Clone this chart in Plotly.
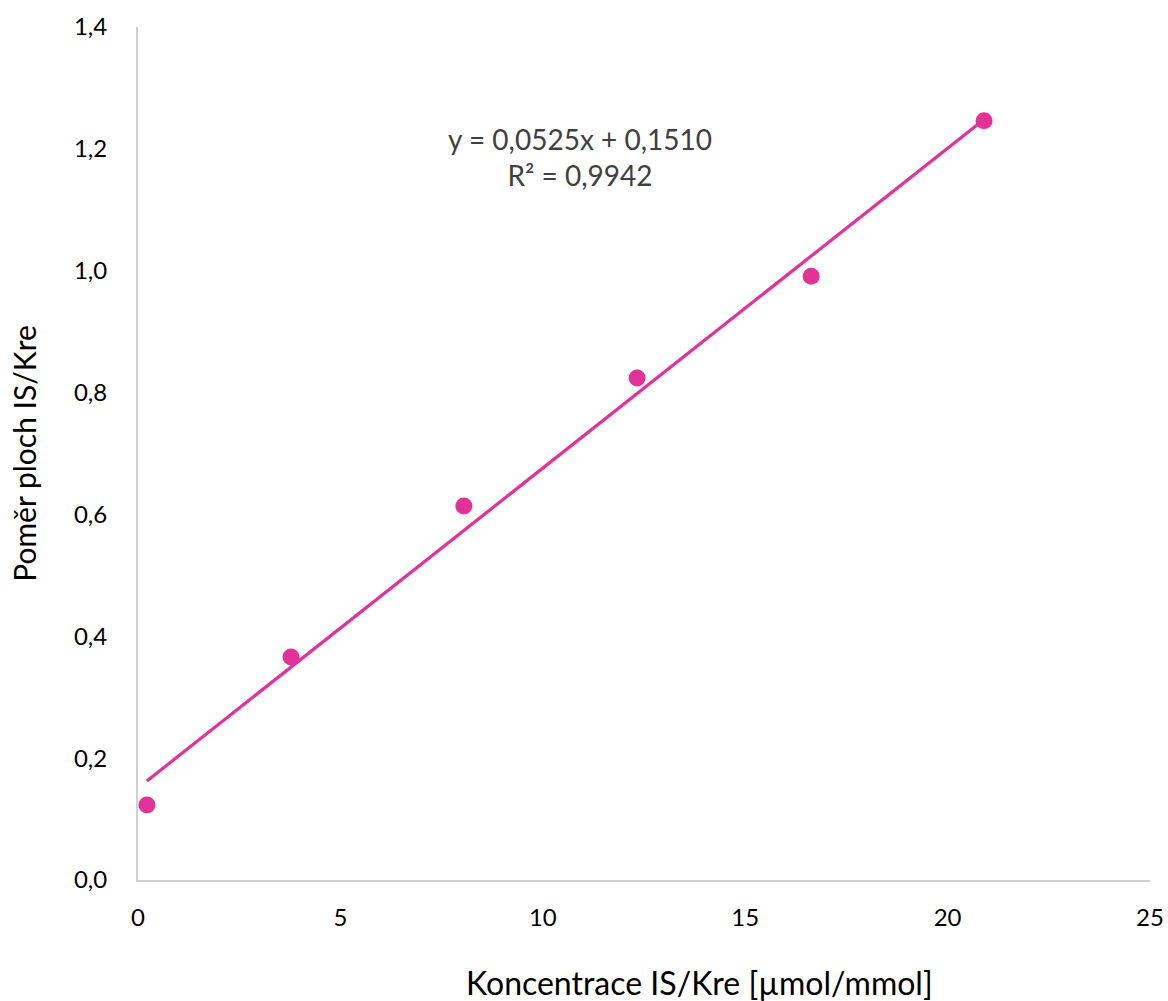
import plotly.graph_objects as go

# Data
konc = [0.22, 3.78, 8.05, 12.33, 16.63, 20.9]
pomer = [0.123, 0.366, 0.614, 0.824, 0.991, 1.246]
slope = 0.0525
intercept = 0.1510
r2 = 0.9942

x_ticks = [0, 5, 10, 15, 20, 25]
y_ticks = [0.0, 0.2, 0.4, 0.6, 0.8, 1.0, 1.2, 1.4]

color = "#E3319A"
font = "Lato, 'Open Sans', sans-serif"

line_x = [min(konc), max(konc)]
line_y = [slope * v + intercept for v in line_x]

fig = go.Figure()
fig.add_trace(go.Scatter(x=line_x, y=line_y, mode="lines",
                         line=dict(color=color, width=3.2), hoverinfo="skip"))
fig.add_trace(go.Scatter(x=konc, y=pomer, mode="markers",
                         marker=dict(color=color, size=17)))

eq = f"y = {slope:.4f}x + {intercept:.4f}".replace(".", ",")
r2t = f"R² = {r2:.4f}".replace(".", ",")
fig.add_annotation(x=10.92, y=1.187, xref="x", yref="y",
                   text=eq + "<br>" + r2t, showarrow=False,
                   font=dict(family=font, size=28, color="#404040"))

# X axis title (offset to the right, as in the original)
fig.add_annotation(x=0.555, y=-0.1205, xref="paper", yref="paper",
                   text="Koncentrace IS/Kre [µmol/mmol]", showarrow=False,
                   xanchor="center", yanchor="middle",
                   font=dict(family=font, size=32, color="#000000"))

fig.update_layout(
    width=1168, height=1001,
    margin=dict(l=138, r=18, t=27, b=121, autoexpand=False),
    plot_bgcolor="white", paper_bgcolor="white",
    showlegend=False,
    separators=", ",
    font=dict(family=font, size=22, color="#000000"),
)
fig.update_xaxes(range=[0, 25], tickvals=x_ticks, ticktext=[str(v) for v in x_ticks],
                 tickfont=dict(size=24),
                 showgrid=False, zeroline=False, showline=True, linecolor="#d0d0d0",
                 linewidth=2, ticks="", ticklabelstandoff=15, automargin=False)
fig.update_yaxes(range=[0, 1.4], tickvals=y_ticks,
                 ticktext=[f"{v:.1f}".replace(".", ",") for v in y_ticks],
                 tickfont=dict(size=24),
                 showgrid=False, zeroline=False, showline=True, linecolor="#d0d0d0",
                 linewidth=2, ticks="", ticklabelstandoff=24, automargin=False,
                 title=dict(text="Poměr ploch IS/Kre", font=dict(size=30), standoff=28))

fig.write_html("out.html")
